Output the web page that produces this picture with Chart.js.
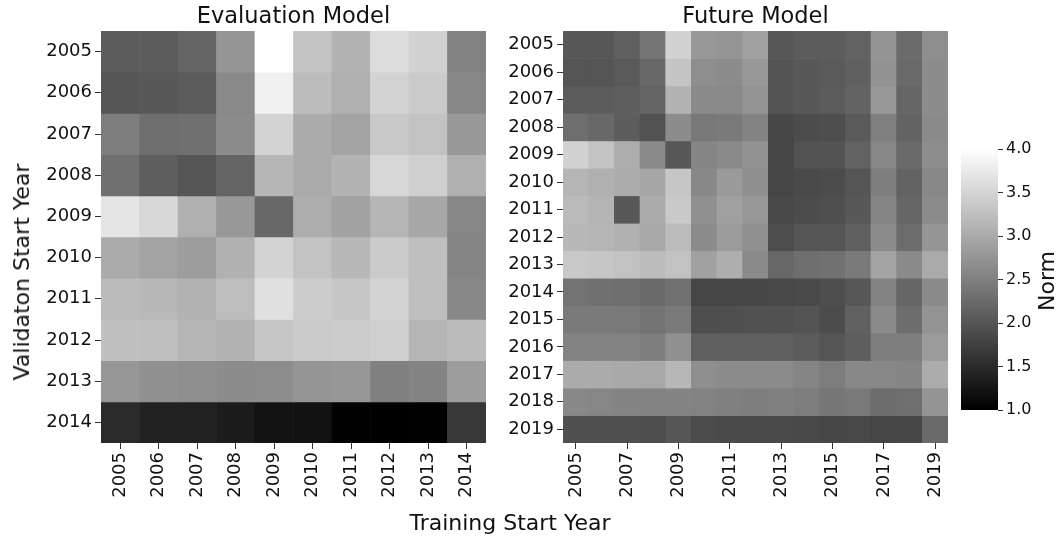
<!DOCTYPE html>
<html>
<head>
<meta charset="utf-8">
<script src="https://cdn.jsdelivr.net/npm/chart.js@4.4.1/dist/chart.umd.min.js"></script>
<style>
  body { margin: 0; background: #fff; }
  #wrap { position: relative; width: 1064px; height: 542px; font-family: "DejaVu Sans"; color: #111; overflow: hidden; }
  #wrap canvas { position: absolute; left: 0; top: 0; }
  .lbl { position: absolute; font-size: 22px; white-space: nowrap; line-height: 1; }
  #xTitle { left: 510px; top: 523px; transform: translate(-50%, -50%); }
  #yTitle { left: 22px; top: 272px; transform: translate(-50%, -50%) rotate(-90deg); }
  #cbTitle { left: 1047px; top: 281px; transform: translate(-50%, -50%) rotate(-90deg); }
</style>
</head>
<body>
<div id="wrap">
  <canvas id="grafico_eval" width="1064" height="542"></canvas>
  <canvas id="grafico_future" width="1064" height="542"></canvas>
  <canvas id="grafico_barra" width="1064" height="542"></canvas>
  <div class="lbl" id="xTitle">Training Start Year</div>
  <div class="lbl" id="yTitle">Validaton Start Year</div>
  <div class="lbl" id="cbTitle">Norm</div>
</div>
<script>
const evalYears = ["2005", "2006", "2007", "2008", "2009", "2010", "2011", "2012", "2013", "2014"];
const futureYears = ["2005", "2006", "2007", "2008", "2009", "2010", "2011", "2012",
  "2013", "2014", "2015", "2016", "2017", "2018", "2019"];
const futureXTicks = ["2005", "2007", "2009", "2011", "2013", "2015", "2017", "2019"];
const colorbarTicks = [1.0, 1.5, 2.0, 2.5, 3.0, 3.5, 4.0];
const normMin = 1.0;
const normMax = 4.0;

// filas = validation start year, columnas = training start year
const evalNorm = [
  [2.08, 2.08, 2.19, 2.75, 4.0, 3.29, 3.11, 3.59, 3.47, 2.53],
  [2.0, 2.04, 2.08, 2.61, 3.82, 3.21, 3.07, 3.48, 3.38, 2.58],
  [2.47, 2.29, 2.32, 2.64, 3.48, 3.01, 2.92, 3.35, 3.28, 2.8],
  [2.32, 2.11, 2.0, 2.18, 3.14, 3.0, 3.11, 3.53, 3.44, 3.07],
  [3.69, 3.54, 3.07, 2.79, 2.22, 3.04, 2.91, 3.13, 2.96, 2.58],
  [3.01, 2.92, 2.85, 3.08, 3.48, 3.28, 3.16, 3.39, 3.24, 2.56],
  [3.2, 3.16, 3.09, 3.22, 3.64, 3.4, 3.33, 3.48, 3.24, 2.6],
  [3.26, 3.24, 3.14, 3.11, 3.33, 3.38, 3.4, 3.44, 3.13, 3.2],
  [2.78, 2.71, 2.67, 2.65, 2.66, 2.75, 2.78, 2.51, 2.55, 2.85],
  [1.51, 1.4, 1.39, 1.33, 1.22, 1.21, 1.02, 1.0, 1.01, 1.66],
];

const futureNorm = [
  [2.04, 2.04, 2.12, 2.38, 3.47, 2.79, 2.75, 2.88, 2.02, 2.08, 2.08, 2.15, 2.73, 2.26, 2.67],
  [2.0, 2.0, 2.06, 2.22, 3.32, 2.67, 2.65, 2.79, 1.99, 2.04, 2.06, 2.13, 2.72, 2.25, 2.65],
  [2.08, 2.08, 2.11, 2.19, 3.11, 2.62, 2.61, 2.73, 1.99, 2.04, 2.08, 2.16, 2.79, 2.2, 2.65],
  [2.29, 2.22, 2.09, 1.96, 2.65, 2.41, 2.44, 2.53, 1.84, 1.89, 1.92, 2.06, 2.51, 2.16, 2.62],
  [3.47, 3.29, 3.05, 2.62, 2.04, 2.56, 2.62, 2.72, 1.82, 1.96, 1.98, 2.15, 2.58, 2.25, 2.66],
  [3.13, 3.07, 3.02, 2.95, 3.33, 2.6, 2.81, 2.68, 1.81, 1.87, 1.89, 2.0, 2.48, 2.15, 2.59],
  [3.19, 3.12, 2.04, 3.01, 3.36, 2.69, 2.88, 2.79, 1.85, 1.89, 1.93, 2.04, 2.56, 2.2, 2.64],
  [3.16, 3.13, 3.08, 2.98, 3.21, 2.65, 2.82, 2.69, 1.91, 2.0, 2.01, 2.13, 2.65, 2.27, 2.75],
  [3.35, 3.33, 3.28, 3.21, 3.28, 2.89, 3.05, 2.62, 2.21, 2.29, 2.33, 2.44, 2.92, 2.62, 3.0],
  [2.35, 2.32, 2.29, 2.25, 2.33, 1.81, 1.82, 1.84, 1.85, 1.87, 1.92, 2.02, 2.53, 2.2, 2.62],
  [2.44, 2.44, 2.42, 2.35, 2.44, 1.92, 1.93, 1.95, 1.95, 1.99, 1.89, 2.14, 2.62, 2.28, 2.73],
  [2.54, 2.54, 2.53, 2.48, 2.69, 2.13, 2.13, 2.13, 2.12, 2.08, 2.0, 2.11, 2.47, 2.48, 2.82],
  [3.01, 3.01, 2.99, 2.98, 3.15, 2.68, 2.65, 2.65, 2.64, 2.56, 2.47, 2.6, 2.6, 2.56, 3.02],
  [2.6, 2.58, 2.55, 2.53, 2.55, 2.53, 2.51, 2.48, 2.51, 2.47, 2.4, 2.42, 2.27, 2.31, 2.74],
  [1.94, 1.94, 1.94, 1.91, 2.01, 1.89, 1.87, 1.87, 1.87, 1.86, 1.84, 1.85, 1.81, 1.84, 2.25],
];

const textColor = "#111111";
Chart.defaults.font.family = "DejaVu Sans";
Chart.defaults.color = textColor;

// escala de grises lineal (cmap "gray")
const gris = (v) => {
  const t = Math.max(0, Math.min(1, (v - normMin) / (normMax - normMin)));
  const g = Math.round(t * 255);
  return `rgb(${g}, ${g}, ${g})`;
};

const tickGrid = {
  drawOnChartArea: false,
  drawTicks: true,
  tickLength: 6,
  tickWidth: 1,
  tickColor: "#333333",
};

const crearHeatmap = (id, years, norm, xTicks, titulo, left, right) => {
  const ctx = document.getElementById(id).getContext("2d");
  const datasets = norm.map((fila, r) => ({
    data: fila.map(() => [r - 0.5, r + 0.5]),
    backgroundColor: fila.map(gris),
    borderWidth: 0,
    barPercentage: 1,
    categoryPercentage: 1,
    grouped: false,
  }));
  return new Chart(ctx, {
    type: "bar",
    data: { labels: years, datasets: datasets },
    options: {
      responsive: false,
      animation: false,
      layout: { padding: { left: 0, right: 1064 - right, top: 0, bottom: 0 } },
      plugins: {
        legend: { display: false },
        tooltip: { enabled: false },
      },
      scales: {
        x: {
          grid: { ...tickGrid, offset: false },
          border: { display: false },
          ticks: {
            autoSkip: false,
            maxRotation: 90,
            minRotation: 90,
            padding: 3,
            font: { size: 18 },
            callback: (v, i) => (xTicks.includes(years[i]) ? years[i] : null),
          },
          afterFit: (s) => {
            s.height = 542 - 443;
          },
        },
        xTop: {
          type: "category",
          position: "top",
          grid: { display: false },
          border: { display: false },
          ticks: { display: false },
          title: {
            display: true,
            text: titulo,
            color: textColor,
            font: { size: 22.5, lineHeight: 1.2 },
            padding: { top: 4, bottom: 0 },
          },
          afterFit: (s) => {
            s.height = 31;
          },
        },
        y: {
          type: "linear",
          reverse: true,
          min: -0.5,
          max: years.length - 0.5,
          grid: tickGrid,
          border: { display: false },
          afterBuildTicks: (s) => {
            s.ticks = years.map((_, i) => ({ value: i }));
          },
          ticks: {
            autoSkip: false,
            padding: 3,
            font: { size: 18 },
            callback: (v) => years[v],
          },
          afterFit: (s) => {
            s.width = left;
          },
        },
      },
    },
  });
};

document.addEventListener("DOMContentLoaded", () => {
  crearHeatmap("grafico_eval", evalYears, evalNorm, evalYears, "Evaluation Model", 101, 486);
  crearHeatmap("grafico_future", futureYears, futureNorm, futureXTicks, "Future Model", 563, 948);

  // barra de color
  const ctxBarra = document.getElementById("grafico_barra").getContext("2d");
  new Chart(ctxBarra, {
    type: "bar",
    data: {
      labels: ["Norm"],
      datasets: [
        {
          data: [[normMin, normMax]],
          backgroundColor: (c) => {
            const y = c.chart.scales.y;
            const y0 = y ? y.getPixelForValue(normMin) : NaN;
            const y1 = y ? y.getPixelForValue(normMax) : NaN;
            if (!Number.isFinite(y0) || !Number.isFinite(y1)) {
              return gris((normMin + normMax) / 2);
            }
            const g = c.chart.ctx.createLinearGradient(0, y0, 0, y1);
            g.addColorStop(0, gris(normMin));
            g.addColorStop(1, gris(normMax));
            return g;
          },
          borderWidth: 0,
          barPercentage: 1,
          categoryPercentage: 1,
        },
      ],
    },
    options: {
      responsive: false,
      animation: false,
      layout: { padding: { left: 961, right: 0, top: 149, bottom: 542 - 410 } },
      plugins: {
        legend: { display: false },
        tooltip: { enabled: false },
      },
      scales: {
        x: { display: false },
        y: {
          position: "right",
          min: normMin,
          max: normMax,
          grid: { ...tickGrid, tickLength: 5 },
          border: { display: false },
          afterBuildTicks: (s) => {
            s.ticks = colorbarTicks.map((v) => ({ value: v }));
          },
          ticks: {
            padding: 3,
            font: { size: 16 },
            callback: (v) => Number(v).toFixed(1),
          },
          afterFit: (s) => {
            s.width = 1064 - 998;
          },
        },
      },
    },
  });
});
</script>
</body>
</html>
